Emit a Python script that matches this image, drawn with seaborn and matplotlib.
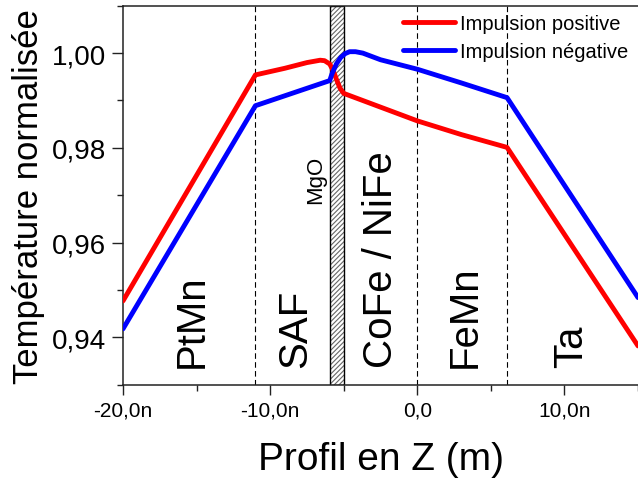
import numpy as np
import pandas as pd
import matplotlib
matplotlib.use('Agg')
import matplotlib.pyplot as plt
import seaborn as sns

red = '#ff0000'
blue = '#0000ff'

# profil de temperature (z en nm)
z_pos = [-20, -11, -9, -7.5, -6.6, -6.3, -5.95, -5.7, -5.5, -5.25, -5.0, -2.5, 0, 3.0, 6.1, 15]
t_pos = [0.9477, 0.9954, 0.9968, 0.9980, 0.9985, 0.9984, 0.9977, 0.9962, 0.9945, 0.9926, 0.9915,
         0.9886, 0.9857, 0.9828, 0.9801, 0.9382]
z_neg = [-20, -11, -5.95, -5.8, -5.5, -5.2, -4.9, -4.6, -4.2, -3.7, -2.5, 0, 3.0, 6.1, 15]
t_neg = [0.9418, 0.9889, 0.9942, 0.9956, 0.9977, 0.9991, 0.9999, 1.0003, 1.0003, 1.0000, 0.9986,
         0.9966, 0.9937, 0.9906, 0.9484]
series = ['Impulsion positive', 'Impulsion négative']

# couches
interfaces = [-11, 0, 6.1]
mgo = (-5.9, -5.0)
layers = ['PtMn', 'SAF', 'CoFe / NiFe', 'FeMn', 'Ta']
layer_x = [-15.3, -8.3, -2.45, 3.2, 10.45]

xticks = [-20, -10, 0, 10]
xticklabels = ['-20,0n', '-10,0n', '0,0', '10,0n']
yticks = [0.94, 0.96, 0.98, 1.00]
yticklabels = ['0,94', '0,96', '0,98', '1,00']

df = pd.concat([
    pd.DataFrame({'z': z_pos, 'T': t_pos, 'serie': series[0]}),
    pd.DataFrame({'z': z_neg, 'T': t_neg, 'serie': series[1]}),
])

sns.set_theme(style='ticks')
plt.rcParams['font.family'] = ['Liberation Sans', 'DejaVu Sans']
plt.rcParams['text.color'] = 'black'
plt.rcParams['axes.labelcolor'] = 'black'
plt.rcParams['xtick.labelcolor'] = 'black'
plt.rcParams['ytick.labelcolor'] = 'black'
plt.rcParams['hatch.linewidth'] = 0.8
plt.rcParams['hatch.color'] = '#666666'

fig = plt.figure(figsize=(6.38, 4.81), dpi=100)
ax = fig.add_axes([0.1928, 0.198, 0.8072, 0.788])

for x in interfaces:
    ax.axvline(x, color='black', lw=0.8, ls=(0, (5, 3)), zorder=1)
ax.axvspan(*mgo, facecolor='white', edgecolor='#666666', hatch='///////', lw=0, zorder=2)
ax.axvspan(*mgo, facecolor='none', edgecolor='black', lw=1.0, zorder=2)

sns.lineplot(data=df, x='z', y='T', hue='serie', palette={series[0]: red, series[1]: blue},
             sort=False, estimator=None, lw=3.5, ax=ax, zorder=3)

for name, x in zip(layers, layer_x):
    ax.text(x, 0.9338, name, rotation=90, ha='center', va='bottom', fontsize=29, color='black')
ax.text(-6.9, 0.9684, 'MgO', rotation=90, ha='center', va='bottom', fontsize=16, color='black')

ax.set_xlim(-20, 15)
ax.set_ylim(0.93, 1.01)
ax.set_xticks(xticks, xticklabels)
ax.set_xticks([-15, -5, 5, 15], minor=True)
ax.set_yticks(yticks, yticklabels)
ax.set_yticks([0.93, 0.95, 0.97, 0.99, 1.01], minor=True)
ax.tick_params(axis='x', which='major', length=7, width=1, labelsize=15, pad=4, color='#222222')
ax.tick_params(axis='y', which='major', length=8, width=1, labelsize=20, pad=4, color='#222222')
ax.tick_params(which='minor', length=4.5, width=1, color='#222222')
for s in ['left', 'bottom', 'top']:
    ax.spines[s].set_color('#222222')
    ax.spines[s].set_linewidth(1.1)
ax.spines['right'].set_visible(False)

ax.set_xlabel('Profil en Z (m)', fontsize=28, labelpad=16)
ax.set_ylabel('Température normalisée', fontsize=25, labelpad=5)

ax.legend(loc='upper left', bbox_to_anchor=(0.5437, 0.978), frameon=False, fontsize=14.5,
          handlelength=2.6, handletextpad=0.25, labelspacing=0.45, borderpad=0, borderaxespad=0)

fig.savefig('out.png', dpi=100)
